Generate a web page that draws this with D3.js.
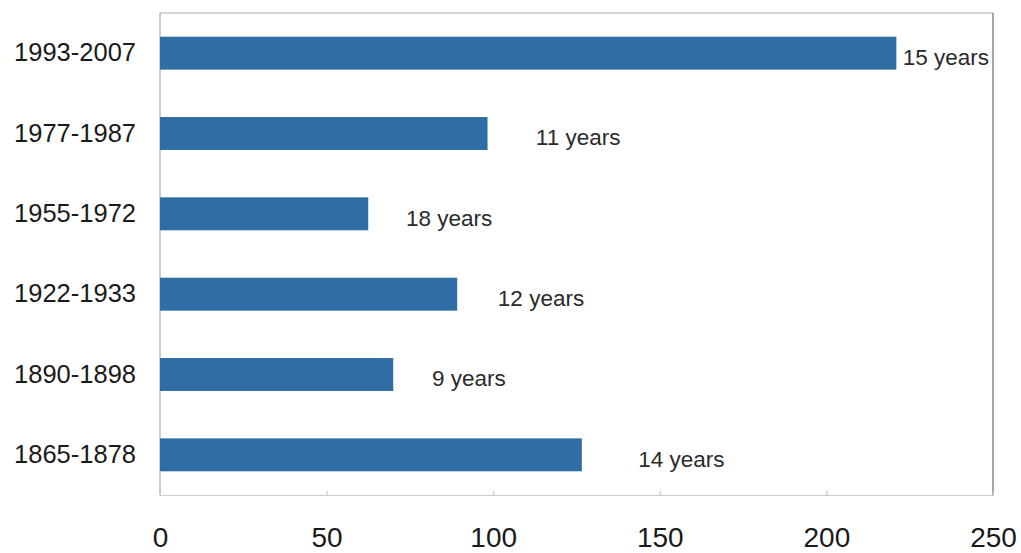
<!DOCTYPE html>
<html>
<head>
<meta charset="utf-8">
<script src="https://cdn.jsdelivr.net/npm/d3@7"></script>
<style>
  html, body { margin: 0; padding: 0; background: #fff; }
  svg { display: block; }
  text { font-family: "Liberation Sans", Arial, sans-serif; }
</style>
</head>
<body>
<svg id="chart" width="1021" height="553"></svg>
<script>
// Data
const categories = ["1993-2007", "1977-1987", "1955-1972", "1922-1933", "1890-1898", "1865-1878"];
const values = [221, 98.3, 62.5, 89.2, 70.0, 126.6];
const durationLabels = ["15 years", "11 years", "18 years", "12 years", "9 years", "14 years"];
const labelAt = [222.9, 112.8, 73.8, 101.4, 81.6, 143.5]; // value-axis position where each label starts
const xTicks = [0, 50, 100, 150, 200, 250];

const svg = d3.select("#chart");
const pLeft = 160, pRight = 993, pTop = 13, pBottom = 495;

const x = d3.scaleLinear().domain([0, 250]).range([pLeft, pRight]);
const y = d3.scaleBand().domain(categories).range([pTop, pBottom]).paddingInner(0.59).paddingOuter(0.295);

// frame
svg.append("line").attr("x1", pLeft).attr("x2", pRight).attr("y1", pTop).attr("y2", pTop)
  .attr("stroke", "#aaa").attr("stroke-width", 1.2);
svg.append("line").attr("x1", pLeft).attr("x2", pLeft).attr("y1", pTop).attr("y2", pBottom)
  .attr("stroke", "#aaa").attr("stroke-width", 1.2);
svg.append("line").attr("x1", pRight).attr("x2", pRight).attr("y1", pTop).attr("y2", pBottom)
  .attr("stroke", "#888").attr("stroke-width", 1.5);

// bars
svg.selectAll("rect.bar").data(categories).enter().append("rect")
  .attr("class", "bar")
  .attr("x", x(0))
  .attr("y", d => y(d))
  .attr("width", (d, i) => x(values[i]) - x(0))
  .attr("height", y.bandwidth())
  .attr("fill", "#2f6ea5");

// x axis
const xAxis = d3.axisBottom(x).tickValues(xTicks).tickSize(-4).tickPadding(32).tickFormat(d3.format("d"));
const gx = svg.append("g").attr("transform", `translate(0,${pBottom})`).call(xAxis);
gx.select(".domain").attr("stroke", "#ccc").attr("stroke-width", 1.2);
gx.selectAll(".tick line").attr("stroke", "#bbb");
gx.selectAll(".tick").filter(d => d === 0 || d === 250).select("line").remove();
gx.selectAll(".tick text").attr("font-size", 28).attr("fill", "#1a1a1a")
  .attr("font-family", "Liberation Sans, Arial, sans-serif");

// y axis
const yAxis = d3.axisLeft(y).tickSize(0).tickPadding(24);
const gy = svg.append("g").attr("transform", `translate(${pLeft},0)`).call(yAxis);
gy.select(".domain").remove();
gy.selectAll(".tick text").attr("font-size", 25.5).attr("fill", "#1a1a1a")
  .attr("font-family", "Liberation Sans, Arial, sans-serif");

// duration labels
svg.selectAll("text.dur").data(categories).enter().append("text")
  .attr("class", "dur")
  .attr("x", (d, i) => x(labelAt[i]))
  .attr("y", d => y(d) + y.bandwidth() / 2 + 4)
  .attr("dy", "0.35em")
  .attr("font-size", 22.5)
  .attr("fill", "#2a2a2a")
  .text((d, i) => durationLabels[i]);
</script>
</body>
</html>
